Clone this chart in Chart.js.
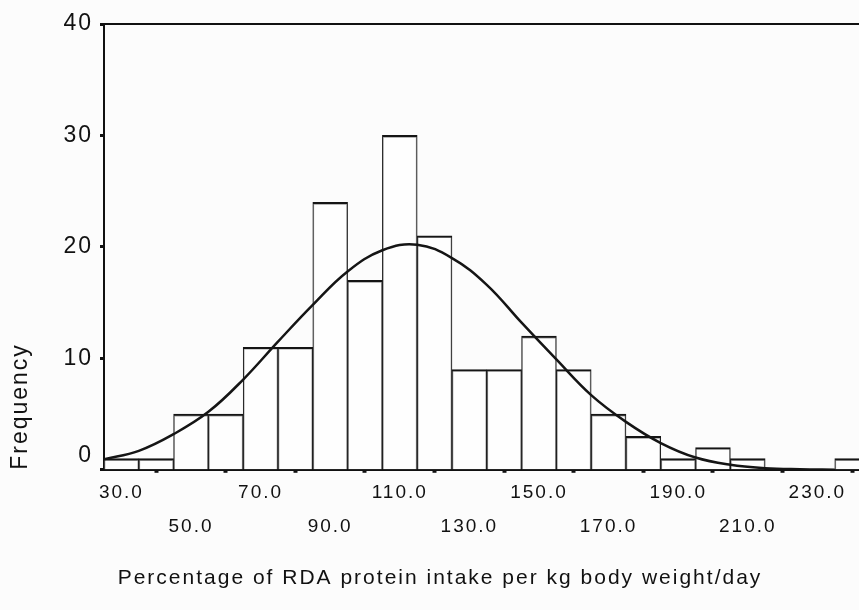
<!DOCTYPE html>
<html>
<head>
<meta charset="utf-8">
<script src="https://cdn.jsdelivr.net/npm/chart.js@4/dist/chart.umd.min.js"></script>
<style>
  html, body { margin: 0; padding: 0; background: #fcfcfc; overflow: hidden; }
  #wrap { width: 859px; height: 610px; overflow: hidden; }
</style>
</head>
<body>
<div id="wrap"><canvas id="histograma" width="880" height="610"></canvas></div>
<script>
// datos del histograma
var centros = [30, 40, 50, 60, 70, 80, 90, 100, 110, 120, 130, 140, 150, 160, 170, 180, 190, 200, 210, 220, 230, 240];
var frecuencias = [1, 1, 5, 5, 11, 11, 24, 17, 30, 21, 9, 9, 12, 9, 5, 3, 1, 2, 1, 0, 0, 1];

// curva normal
var curvaX = [25, 35, 45, 55, 65, 75, 85, 95, 105, 115, 125, 135, 145, 155, 165, 175, 185, 195, 205, 215, 225, 235];
var curvaY = [0.95, 1.7, 3.2, 5.2, 8.1, 11.5, 14.8, 17.8, 19.7, 20.2, 19.0, 16.6, 13.2, 9.9, 6.7, 4.3, 2.4, 1.1, 0.45, 0.15, 0.05, 0.01];

// ticks
var ticksX = [30, 50, 70, 90, 110, 130, 150, 170, 190, 210, 230];
var ticksY = [0, 10, 20, 30, 40];

var tituloX = "Percentage of RDA protein intake per kg body weight/day";
var tituloY = "Frequency";

var fuente = "'Liberation Sans', Arial, Helvetica, sans-serif";

var barras = centros.map(function (c, i) { return { x: c, y: frecuencias[i] }; });
var curva = curvaX.map(function (c, i) { return { x: c, y: curvaY[i] }; });

// fondo y espaciado de letras
var fondo = {
    id: "fondo",
    beforeDraw: function (chart) {
        var ctx = chart.ctx;
        ctx.save();
        ctx.fillStyle = "#fcfcfc";
        ctx.fillRect(0, 0, chart.width, chart.height);
        ctx.restore();
        ctx.letterSpacing = "2px";
    }
};

var ctx = document.getElementById("histograma").getContext("2d");
var grafico = new Chart(ctx, {
    type: "bar",
    data: {
        datasets: [{
                type: "line",
                data: curva,
                xAxisID: "x",
                yAxisID: "y",
                borderColor: "#151515",
                borderWidth: 2.5,
                pointRadius: 0,
                tension: 0.4,
                fill: false,
                order: 0
            },
            {
                type: "bar",
                data: barras,
                xAxisID: "x",
                yAxisID: "y",
                backgroundColor: "rgba(255, 255, 255, 0.6)",
                borderColor: "#151515",
                borderWidth: { top: 2, left: 1, right: 1, bottom: 0 },
                barPercentage: 1,
                categoryPercentage: 1,
                order: 1
            }
        ]
    },
    options: {
        responsive: false,
        animation: false,
        layout: { padding: { top: 24, left: 0, right: 0, bottom: 0 } },
        plugins: {
            legend: { display: false },
            tooltip: { enabled: false },
            title: {
                display: true,
                position: "bottom",
                text: tituloX,
                color: "#111",
                font: { family: fuente, size: 21, weight: "normal" },
                padding: { top: 0, bottom: 19 }
            }
        },
        scales: {
            x: {
                type: "linear",
                position: "bottom",
                min: 25,
                max: 248,
                offset: false,
                afterFit: function (scale) { scale.height = 96; },
                afterBuildTicks: function (scale) {
                    scale.ticks = ticksX.map(function (v) { return { value: v }; });
                },
                border: { color: "#111", width: 2 },
                grid: { drawOnChartArea: false, tickLength: 3, tickWidth: 4, tickColor: "#111" },
                ticks: {
                    autoSkip: false,
                    maxRotation: 0,
                    padding: 3,
                    color: "#111",
                    font: { family: fuente, size: 19, lineHeight: "34px" },
                    callback: function (value, index) {
                        var txt = Number(value).toFixed(1);
                        return index % 2 === 0 ? txt : ["", txt];
                    }
                }
            },
            x2: {
                type: "linear",
                position: "top",
                min: 25,
                max: 248,
                afterFit: function (scale) { scale.height = 0; },
                border: { color: "#111", width: 2 },
                grid: { drawOnChartArea: false, drawTicks: false },
                ticks: { display: false }
            },
            y: {
                min: 0,
                max: 40,
                afterFit: function (scale) { scale.width = 104; },
                afterBuildTicks: function (scale) {
                    scale.ticks = ticksY.map(function (v) { return { value: v }; });
                },
                border: { color: "#111", width: 2 },
                grid: { drawOnChartArea: false, tickLength: 4, tickWidth: 3, tickColor: "#111" },
                ticks: {
                    padding: 7,
                    color: "#111",
                    font: { family: fuente, size: 23 },
                    callback: function (value) {
                        // el 0 aparece un poco mas arriba en el original
                        return value === 0 ? ["0", ""] : String(value);
                    }
                },
                title: {
                    display: true,
                    text: tituloY,
                    align: "start",
                    color: "#111",
                    font: { family: fuente, size: 23 },
                    padding: { top: 7, bottom: 0 }
                }
            }
        }
    },
    plugins: [fondo]
});
</script>
</body>
</html>
